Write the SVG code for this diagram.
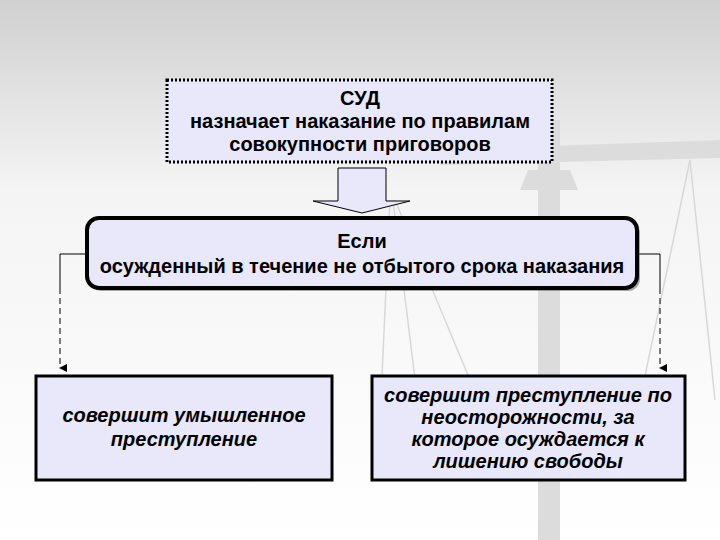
<svg xmlns="http://www.w3.org/2000/svg" width="720" height="540" viewBox="0 0 720 540">
<defs>
<linearGradient id="bg" x1="0" y1="0" x2="0" y2="1"><stop offset="0" stop-color="#d0d0d0"/><stop offset="0.35" stop-color="#f4f4f4"/><stop offset="1" stop-color="#ffffff"/></linearGradient>
<marker id="ah" markerWidth="8" markerHeight="8" refX="4" refY="7" orient="auto" markerUnits="userSpaceOnUse"><path d="M0,0 L8,0 L4,8 z" fill="#000"/></marker>
<style>
.t{font-family:"Liberation Sans",Arial,sans-serif;font-size:20px;text-anchor:middle;fill:#000}
.b{font-weight:bold}
.i{font-style:italic}
.fill{fill:#e8e8fa}
</style>
</defs>
<rect width="720" height="540" fill="url(#bg)"/>
<g id="scales" fill="#dcdcdc" stroke="none">
<rect x="538" y="120" width="22" height="420"/>
<path d="M440,150 L720,140 L720,158 L440,165 z"/>
<path d="M520,190 L578,190 L570,170 L528,170 z"/>
<path d="M390,200 L380,420 M393,200 L420,420 M395,200 L470,380" stroke="#d8d8d8" stroke-width="1.5" fill="none"/>
<path d="M690,160 L640,400 M690,160 L715,400" stroke="#d8d8d8" stroke-width="1.5" fill="none"/>
</g>
<g id="connectors" fill="none" stroke="#000" stroke-width="1">
<path d="M87,254 H60 V288"/>
<path d="M60,288 V368" stroke-dasharray="6,4" marker-end="url(#ah)"/>
<path d="M637,254 H660 V288"/>
<path d="M660,288 V368" stroke-dasharray="6,4" marker-end="url(#ah)"/>
</g>
<g id="court">
<rect x="167" y="80" width="385" height="82" class="fill" stroke="#000" stroke-width="3" stroke-dasharray="2,2"/>
<text class="t b" x="360" y="105">СУД</text>
<text class="t b" x="360" y="128">назначает наказание по правилам</text>
<text class="t b" x="360" y="151">совокупности приговоров</text>
</g>
<g id="arrow">
<path d="M338,168 H386 V201 H410 L362,213 L313,201 H338 z" class="fill" stroke="#000" stroke-width="1"/>
</g>
<g id="condition">
<rect x="90" y="221" width="550" height="70" rx="12" fill="#555" opacity="0.5"/>
<rect x="87" y="218" width="550" height="70" rx="12" class="fill" stroke="#000" stroke-width="4"/>
<text class="t b" x="362" y="248">Если</text>
<text class="t b" x="362" y="273">осужденный в течение не отбытого срока наказания</text>
</g>
<g id="intent">
<rect x="36" y="376" width="296" height="104" class="fill" stroke="#000" stroke-width="3"/>
<text class="t b i" x="184" y="422">совершит умышленное</text>
<text class="t b i" x="184" y="446">преступление</text>
</g>
<g id="negligence">
<rect x="372" y="376" width="313" height="104" class="fill" stroke="#000" stroke-width="3"/>
<text class="t b i" x="528" y="402">совершит преступление по</text>
<text class="t b i" x="528" y="424">неосторожности, за</text>
<text class="t b i" x="528" y="446">которое осуждается к</text>
<text class="t b i" x="528" y="468">лишению свободы</text>
</g>
</svg>
